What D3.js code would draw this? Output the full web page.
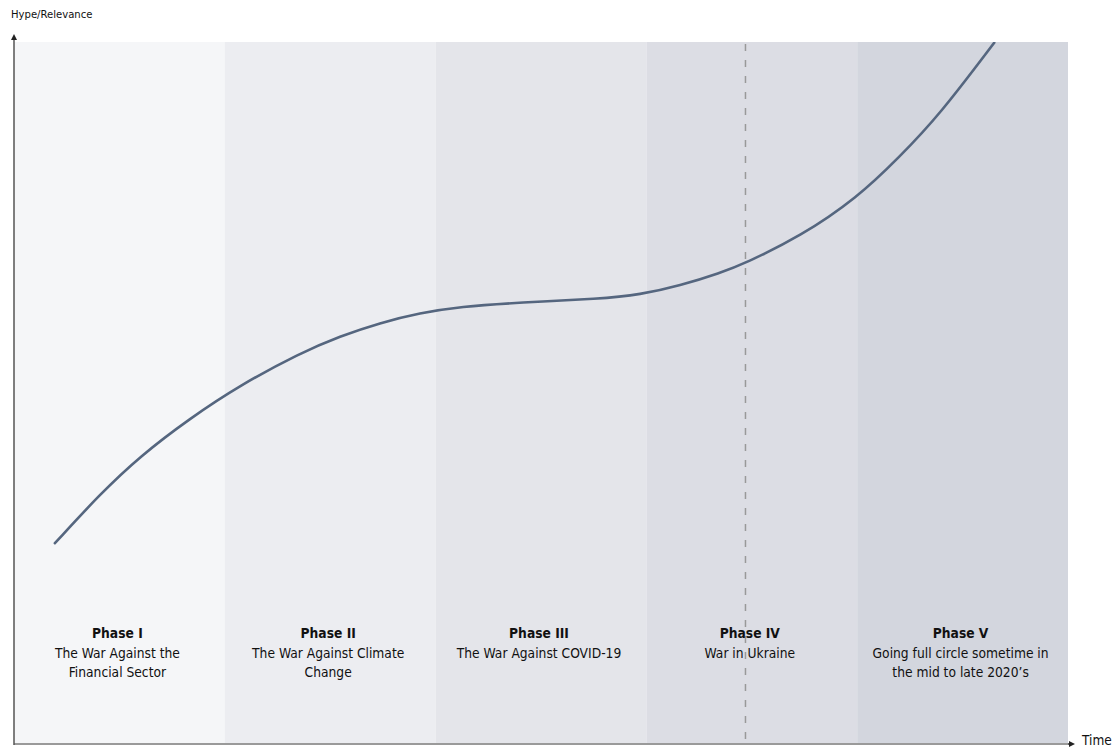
<!DOCTYPE html>
<html>
<head>
<meta charset="utf-8">
<script src="https://cdn.jsdelivr.net/npm/d3@7"></script>
<style>
  html, body { margin: 0; padding: 0; background: #ffffff; }
  svg { display: block; }
  text { font-family: "Liberation Sans Narrow", "DejaVu Sans Condensed", "Roboto", sans-serif; fill: #111; }
</style>
</head>
<body>
<svg id="chart" width="1117" height="747"></svg>
<script>
// ---- data ----
const phases = ["Phase I", "Phase II", "Phase III", "Phase IV", "Phase V"];
const phaseDescriptions = [
  ["The War Against the", "Financial Sector"],
  ["The War Against Climate", "Change"],
  ["The War Against COVID-19"],
  ["War in Ukraine"],
  ["Going full circle sometime in", "the mid to late 2020\u2019s"]
];
const phaseColors = ["#f5f6f8", "#ecedf1", "#e4e5ea", "#dcdde4", "#d3d6de"];
// curve: time (phase units) vs hype (0-100)
const curveTime = [0.194, 0.408, 0.598, 0.835, 1.072, 1.357, 1.547, 1.736, 1.926, 2.116, 2.40, 2.78, 2.97, 3.16, 3.35, 3.47, 3.73, 4.00, 4.20, 4.39, 4.65];
const curveHype = [28.6, 35.6, 41.0, 46.4, 51.1, 55.7, 58.1, 60.0, 61.4, 62.3, 62.9, 63.4, 64.0, 65.3, 67.1, 68.5, 72.3, 77.8, 83.6, 89.6, 99.9];
const markerTime = 3.47; // dashed "now" marker
const yAxisLabel = "Hype/Relevance";
const xAxisLabel = "Time";

(function () {
// ---- layout ----
const svg = d3.select("#chart");
const pL = 14, pR = 1068, pT = 42, pB = 744;

const x = d3.scaleLinear().domain([0, 5]).range([pL, pR]);
const y = d3.scaleLinear().domain([0, 100]).range([pB, pT]);

// bands
svg.append("g").selectAll("rect").data(phases).join("rect")
  .attr("x", (d, i) => x(i))
  .attr("y", pT)
  .attr("width", (d, i) => x(i + 1) - x(i))
  .attr("height", pB - pT)
  .attr("fill", (d, i) => phaseColors[i]);

// dashed marker
svg.append("line")
  .attr("x1", x(markerTime)).attr("x2", x(markerTime))
  .attr("y1", pT + 2).attr("y2", pB)
  .attr("stroke", "#999").attr("stroke-width", 1.5)
  .attr("stroke-dasharray", "7,9");

// labels
const lab = svg.append("g").selectAll("text").data(phases).join("text")
  .attr("text-anchor", "middle")
  .attr("x", (d, i) => x(i + 0.5) - 2)
  .attr("y", 638)
  .style("font-size", "13.7px");
lab.append("tspan").attr("font-weight", "bold").text(d => d);
lab.each(function(d, i) {
  const t = d3.select(this);
  phaseDescriptions[i].forEach((line) => {
    t.append("tspan").attr("x", x(i + 0.5) - 2).attr("dy", 19.5).text(line);
  });
});

// curve
svg.append("clipPath").attr("id", "clip").append("rect")
  .attr("x", pL).attr("y", pT).attr("width", pR - pL).attr("height", pB - pT);
const pts = curveTime.map((t, i) => [t, curveHype[i]]);
svg.append("path")
  .datum(pts)
  .attr("clip-path", "url(#clip)")
  .attr("fill", "none")
  .attr("stroke", "#55667f")
  .attr("stroke-width", 2.6)
  .attr("stroke-linecap", "round")
  .attr("d", d3.line().x(d => x(d[0])).y(d => y(d[1])).curve(d3.curveBasis));

// axes
svg.append("defs").append("marker")
  .attr("id", "arrow").attr("viewBox", "0 0 10 10")
  .attr("refX", 5).attr("refY", 5)
  .attr("markerWidth", 6).attr("markerHeight", 6)
  .attr("markerUnits", "userSpaceOnUse")
  .attr("orient", "auto-start-reverse")
  .append("path").attr("d", "M0,0 L10,5 L0,10 z").attr("fill", "#222");

svg.append("line")
  .attr("x1", pL).attr("x2", pR + 2)
  .attr("y1", pB).attr("y2", pB)
  .attr("stroke", "#9a9a9a").attr("stroke-width", 2);
svg.append("line")
  .attr("x1", pR).attr("x2", pR + 4)
  .attr("y1", pB).attr("y2", pB)
  .attr("stroke", "#222").attr("stroke-width", 1)
  .attr("marker-end", "url(#arrow)");
svg.append("line")
  .attr("x1", pL).attr("x2", pL)
  .attr("y1", pB + 1).attr("y2", pT - 5)
  .attr("stroke", "#555").attr("stroke-width", 1.5)
  .attr("marker-end", "url(#arrow)");

svg.append("text").attr("x", 11).attr("y", 18).style("font-size", "11.2px").text(yAxisLabel);
svg.append("text").attr("x", 1082).attr("y", 745).style("font-size", "13.5px").text(xAxisLabel);
})();
</script>
</body>
</html>
